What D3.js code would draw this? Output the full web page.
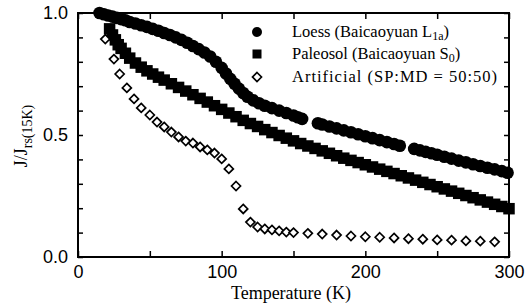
<!DOCTYPE html>
<html>
<head>
<meta charset="utf-8">
<script src="https://cdn.jsdelivr.net/npm/d3@7"></script>
<style>
  body { margin: 0; background: #fff; }
  svg { display: block; }
</style>
</head>
<body>
<script>
// Loess (Baicaoyuan L1a) - filled circles
const loessT = [15, 18, 21, 24, 27, 30, 33, 36, 40, 44, 48, 52, 56, 60, 64, 68, 72, 76, 80, 84, 88, 92, 96, 100,
  103, 106, 109, 112, 115, 118, 122, 126, 130, 135, 140, 145, 150, 153, 156,
  167, 170, 175, 180, 185, 190, 195, 200, 205, 210, 215, 220, 224,
  234, 238, 242, 246, 250, 255, 260, 265, 270, 275, 280, 285, 290, 295, 299];
const loessV = [1.0, 0.995, 0.99, 0.985, 0.98, 0.975, 0.97, 0.963, 0.957, 0.95, 0.943, 0.935, 0.927, 0.918, 0.91, 0.9, 0.89, 0.878, 0.865, 0.852, 0.838, 0.822, 0.8, 0.775,
  0.752, 0.73, 0.71, 0.69, 0.672, 0.657, 0.642, 0.63, 0.62, 0.61, 0.6, 0.59, 0.58, 0.573, 0.566,
  0.548, 0.543, 0.535, 0.527, 0.519, 0.511, 0.503, 0.495, 0.487, 0.479, 0.471, 0.463, 0.456,
  0.443, 0.437, 0.431, 0.425, 0.419, 0.411, 0.403, 0.395, 0.388, 0.38, 0.373, 0.366, 0.359, 0.352, 0.345];

// Paleosol (Baicaoyuan S0) - filled squares
const paleoT = [22, 24, 26, 28, 30, 33, 36, 40, 44, 48, 52, 56, 60, 65, 70, 75, 80, 85, 90, 95, 100,
  105, 110, 115, 120, 125, 130, 135, 140, 145, 150, 155, 160, 165, 170, 175, 180, 185, 190, 195, 200,
  205, 210, 215, 220, 225, 230, 235, 240, 245, 250, 255, 260, 265, 270, 275, 280, 285, 290, 295, 300];
const paleoV = [0.935, 0.91, 0.89, 0.87, 0.855, 0.835, 0.815, 0.795, 0.778, 0.763, 0.75, 0.737, 0.725, 0.71, 0.695, 0.68, 0.665, 0.65, 0.635, 0.62, 0.605,
  0.59, 0.575, 0.56, 0.547, 0.535, 0.522, 0.51, 0.498, 0.487, 0.476, 0.465, 0.455, 0.445, 0.435, 0.425, 0.415, 0.405, 0.396, 0.387, 0.378,
  0.369, 0.36, 0.351, 0.342, 0.333, 0.324, 0.315, 0.306, 0.297, 0.288, 0.279, 0.27, 0.261, 0.252, 0.243, 0.234, 0.225, 0.216, 0.207, 0.198];

// Artificial (SP:MD = 50:50) - open diamonds
const artT = [19, 25, 29, 34, 39, 44, 50, 55, 60, 65, 70, 75, 80, 85, 90, 95, 100, 105, 110, 115, 120, 125,
  130, 135, 140, 145, 150, 160, 170, 180, 190, 200, 210, 220, 230, 240, 250, 260, 270, 280, 290];
const artV = [0.893, 0.811, 0.75, 0.693, 0.648, 0.611, 0.582, 0.553, 0.533, 0.512, 0.492, 0.475, 0.467, 0.451, 0.439, 0.426, 0.402, 0.361, 0.291, 0.197, 0.143, 0.123,
  0.115, 0.111, 0.107, 0.102, 0.1, 0.097, 0.094, 0.09, 0.086, 0.083, 0.081, 0.078, 0.075, 0.073, 0.07, 0.069, 0.066, 0.065, 0.062];

const xTicks = [0, 50, 100, 150, 200, 250, 300];
const xLabels = [0, 100, 200, 300];
const yTicks = [0, 0.1, 0.2, 0.3, 0.4, 0.5, 0.6, 0.7, 0.8, 0.9, 1.0];
const yLabels = [0, 0.5, 1.0];

const width = 526;
const height = 307;
const x = d3.scaleLinear().domain([0, 300]).range([78, 509]);
const y = d3.scaleLinear().domain([0, 1]).range([257, 13]);

const svg = d3.select("body").append("svg")
  .attr("width", width)
  .attr("height", height);

const serif = "'Liberation Serif', 'Times New Roman', serif";
const sans = "'Liberation Sans', Arial, sans-serif";

// data markers
svg.append("g")
  .selectAll("circle")
  .data(d3.zip(loessT, loessV))
  .join("circle")
  .attr("cx", (d) => x(d[0]))
  .attr("cy", (d) => y(d[1]))
  .attr("r", 6.3)
  .attr("fill", "#000");

const sq = 11.5;
svg.append("g")
  .selectAll("rect")
  .data(d3.zip(paleoT, paleoV))
  .join("rect")
  .attr("x", (d) => x(d[0]) - sq / 2)
  .attr("y", (d) => y(d[1]) - sq / 2)
  .attr("width", sq)
  .attr("height", sq)
  .attr("fill", "#000");

const diamond = "M0,-4.5L4.5,0L0,4.5L-4.5,0Z";
svg.append("g")
  .selectAll("path")
  .data(d3.zip(artT, artV))
  .join("path")
  .attr("d", diamond)
  .attr("transform", (d) => `translate(${x(d[0])},${y(d[1])})`)
  .attr("fill", "#fff")
  .attr("stroke", "#000")
  .attr("stroke-width", 1.7);

// axes, ticks inside
const axBottom = svg.append("g")
  .attr("transform", `translate(0,${y(0)})`)
  .call(d3.axisBottom(x).tickValues(xTicks).tickSize(-6)
    .tickFormat((d) => xLabels.includes(d) ? d : ""));
const axTop = svg.append("g")
  .attr("transform", `translate(0,${y(1)})`)
  .call(d3.axisTop(x).tickValues(xTicks).tickSize(-6).tickFormat(""));
const axLeft = svg.append("g")
  .attr("transform", `translate(${x(0)},0)`)
  .call(d3.axisLeft(y).tickValues(yTicks).tickSize(-5)
    .tickFormat((d) => yLabels.some((v) => Math.abs(v - d) < 1e-9) ? d3.format(".1f")(d) : ""));
const axRight = svg.append("g")
  .attr("transform", `translate(${x(300)},0)`)
  .call(d3.axisRight(y).tickValues(yTicks).tickSize(-5).tickFormat(""));

[axBottom, axTop, axLeft, axRight].forEach((g) => {
  g.select(".domain").remove();
  g.selectAll(".tick line").attr("stroke", "#000").attr("stroke-width", 1.5);
  g.selectAll(".tick text").attr("fill", "#000")
    .style("font-family", sans).style("font-size", "18px");
});
axBottom.selectAll(".tick text").attr("y", 8);
axLeft.selectAll(".tick text").attr("x", -10);

svg.append("rect")
  .attr("x", x(0))
  .attr("y", y(1))
  .attr("width", x(300) - x(0))
  .attr("height", y(0) - y(1))
  .attr("fill", "none")
  .attr("stroke", "#000")
  .attr("stroke-width", 2);

// axis titles
svg.append("text")
  .attr("x", 291)
  .attr("y", 299)
  .attr("text-anchor", "middle")
  .style("font-family", serif)
  .style("font-size", "18px")
  .text("Temperature (K)");

const ylab = svg.append("text")
  .attr("transform", "translate(27,136) rotate(-90)")
  .attr("text-anchor", "middle")
  .style("font-family", serif)
  .style("font-size", "18px");
ylab.append("tspan").text("J/J");
ylab.append("tspan").attr("dy", 5).style("font-size", "14px").text("rs(15K)");

// legend
const legend = svg.append("g");
const legendRows = [
  { main: "Loess (Baicaoyuan L", sub: "1a", tail: ")", y: 32, len: 0 },
  { main: "Paleosol (Baicaoyuan S", sub: "0", tail: ")", y: 54, len: 0 },
  { main: "Artificial (SP:MD = 50:50)", sub: "", tail: "", y: 77, len: 205 },
];
legend.append("circle").attr("cx", 257).attr("cy", 32).attr("r", 5).attr("fill", "#000");
legend.append("rect").attr("x", 252.5).attr("y", 49.5).attr("width", 9).attr("height", 9).attr("fill", "#000");
legend.append("path").attr("d", diamond).attr("transform", "translate(257,77)")
  .attr("fill", "#fff").attr("stroke", "#000").attr("stroke-width", 1.7);

legendRows.forEach((r) => {
  const t = legend.append("text")
    .attr("x", 292)
    .attr("y", r.y + 5)
    .style("font-family", serif)
    .style("font-size", "16.5px");
  if (r.len) t.attr("textLength", r.len);
  t.append("tspan").text(r.main);
  if (r.sub) {
    t.append("tspan").attr("dy", 3).style("font-size", "12px").text(r.sub);
    t.append("tspan").attr("dy", -3).text(r.tail);
  }
});
</script>
</body>
</html>
